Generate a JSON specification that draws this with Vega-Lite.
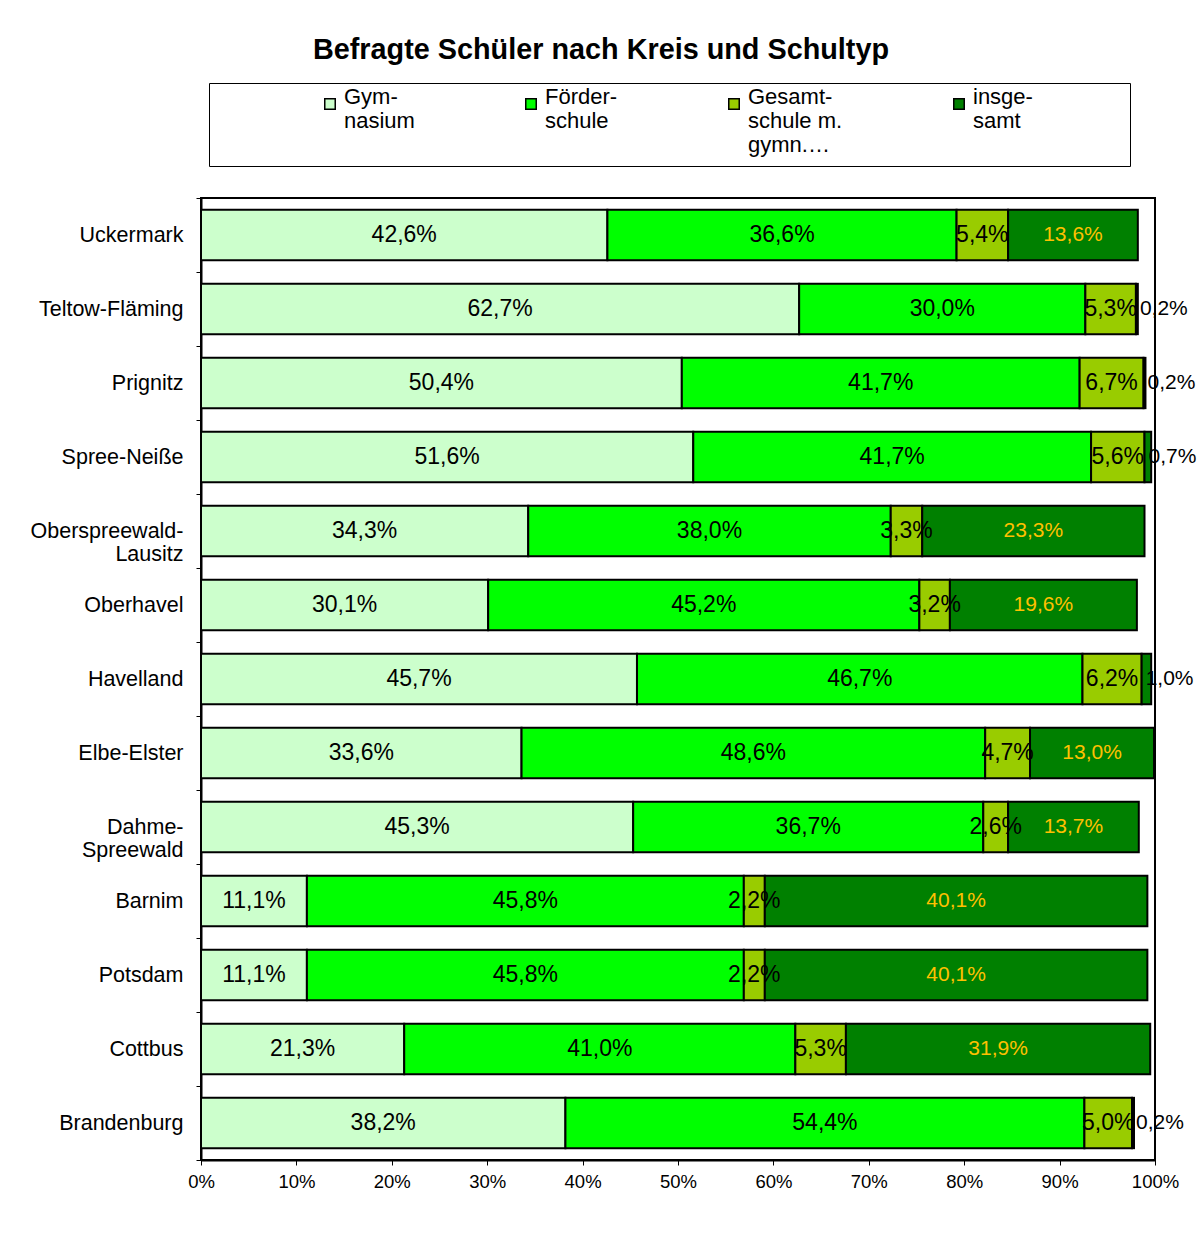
{
  "$schema": "https://vega.github.io/schema/vega-lite/v6.json",
  "width": 954,
  "height": 962,
  "autosize": {"type": "none"},
  "padding": {"left": 201, "top": 198, "right": 48, "bottom": 74},
  "background": "white",
  "title": {"text": "Befragte Schüler nach Kreis und Schultyp", "font": "Liberation Sans", "fontSize": 28.8, "fontWeight": "bold", "color": "black", "anchor": "middle", "offset": 18, "dx": -77},
  "config": {
    "locale": {"number": {"decimal": ",", "thousands": ".", "grouping": [3], "currency": ["", " €"]}},
    "view": {"stroke": "black", "strokeWidth": 2}
  },
  "data": {"values": [
    {"Kreis": "Uckermark", "Schultyp": "Gymnasium", "Nr": 1, "Anteil": 0.426},
    {"Kreis": "Uckermark", "Schultyp": "Förderschule", "Nr": 2, "Anteil": 0.366},
    {"Kreis": "Uckermark", "Schultyp": "Gesamtschule m. gymn. Oberstufe", "Nr": 3, "Anteil": 0.054},
    {"Kreis": "Uckermark", "Schultyp": "insgesamt", "Nr": 4, "Anteil": 0.136},
    {"Kreis": "Teltow-Fläming", "Schultyp": "Gymnasium", "Nr": 1, "Anteil": 0.627},
    {"Kreis": "Teltow-Fläming", "Schultyp": "Förderschule", "Nr": 2, "Anteil": 0.300},
    {"Kreis": "Teltow-Fläming", "Schultyp": "Gesamtschule m. gymn. Oberstufe", "Nr": 3, "Anteil": 0.053},
    {"Kreis": "Teltow-Fläming", "Schultyp": "insgesamt", "Nr": 4, "Anteil": 0.002},
    {"Kreis": "Prignitz", "Schultyp": "Gymnasium", "Nr": 1, "Anteil": 0.504},
    {"Kreis": "Prignitz", "Schultyp": "Förderschule", "Nr": 2, "Anteil": 0.417},
    {"Kreis": "Prignitz", "Schultyp": "Gesamtschule m. gymn. Oberstufe", "Nr": 3, "Anteil": 0.067},
    {"Kreis": "Prignitz", "Schultyp": "insgesamt", "Nr": 4, "Anteil": 0.002},
    {"Kreis": "Spree-Neiße", "Schultyp": "Gymnasium", "Nr": 1, "Anteil": 0.516},
    {"Kreis": "Spree-Neiße", "Schultyp": "Förderschule", "Nr": 2, "Anteil": 0.417},
    {"Kreis": "Spree-Neiße", "Schultyp": "Gesamtschule m. gymn. Oberstufe", "Nr": 3, "Anteil": 0.056},
    {"Kreis": "Spree-Neiße", "Schultyp": "insgesamt", "Nr": 4, "Anteil": 0.007},
    {"Kreis": "Oberspreewald-Lausitz", "Schultyp": "Gymnasium", "Nr": 1, "Anteil": 0.343},
    {"Kreis": "Oberspreewald-Lausitz", "Schultyp": "Förderschule", "Nr": 2, "Anteil": 0.380},
    {"Kreis": "Oberspreewald-Lausitz", "Schultyp": "Gesamtschule m. gymn. Oberstufe", "Nr": 3, "Anteil": 0.033},
    {"Kreis": "Oberspreewald-Lausitz", "Schultyp": "insgesamt", "Nr": 4, "Anteil": 0.233},
    {"Kreis": "Oberhavel", "Schultyp": "Gymnasium", "Nr": 1, "Anteil": 0.301},
    {"Kreis": "Oberhavel", "Schultyp": "Förderschule", "Nr": 2, "Anteil": 0.452},
    {"Kreis": "Oberhavel", "Schultyp": "Gesamtschule m. gymn. Oberstufe", "Nr": 3, "Anteil": 0.032},
    {"Kreis": "Oberhavel", "Schultyp": "insgesamt", "Nr": 4, "Anteil": 0.196},
    {"Kreis": "Havelland", "Schultyp": "Gymnasium", "Nr": 1, "Anteil": 0.457},
    {"Kreis": "Havelland", "Schultyp": "Förderschule", "Nr": 2, "Anteil": 0.467},
    {"Kreis": "Havelland", "Schultyp": "Gesamtschule m. gymn. Oberstufe", "Nr": 3, "Anteil": 0.062},
    {"Kreis": "Havelland", "Schultyp": "insgesamt", "Nr": 4, "Anteil": 0.010},
    {"Kreis": "Elbe-Elster", "Schultyp": "Gymnasium", "Nr": 1, "Anteil": 0.336},
    {"Kreis": "Elbe-Elster", "Schultyp": "Förderschule", "Nr": 2, "Anteil": 0.486},
    {"Kreis": "Elbe-Elster", "Schultyp": "Gesamtschule m. gymn. Oberstufe", "Nr": 3, "Anteil": 0.047},
    {"Kreis": "Elbe-Elster", "Schultyp": "insgesamt", "Nr": 4, "Anteil": 0.130},
    {"Kreis": "Dahme-Spreewald", "Schultyp": "Gymnasium", "Nr": 1, "Anteil": 0.453},
    {"Kreis": "Dahme-Spreewald", "Schultyp": "Förderschule", "Nr": 2, "Anteil": 0.367},
    {"Kreis": "Dahme-Spreewald", "Schultyp": "Gesamtschule m. gymn. Oberstufe", "Nr": 3, "Anteil": 0.026},
    {"Kreis": "Dahme-Spreewald", "Schultyp": "insgesamt", "Nr": 4, "Anteil": 0.137},
    {"Kreis": "Barnim", "Schultyp": "Gymnasium", "Nr": 1, "Anteil": 0.111},
    {"Kreis": "Barnim", "Schultyp": "Förderschule", "Nr": 2, "Anteil": 0.458},
    {"Kreis": "Barnim", "Schultyp": "Gesamtschule m. gymn. Oberstufe", "Nr": 3, "Anteil": 0.022},
    {"Kreis": "Barnim", "Schultyp": "insgesamt", "Nr": 4, "Anteil": 0.401},
    {"Kreis": "Potsdam", "Schultyp": "Gymnasium", "Nr": 1, "Anteil": 0.111},
    {"Kreis": "Potsdam", "Schultyp": "Förderschule", "Nr": 2, "Anteil": 0.458},
    {"Kreis": "Potsdam", "Schultyp": "Gesamtschule m. gymn. Oberstufe", "Nr": 3, "Anteil": 0.022},
    {"Kreis": "Potsdam", "Schultyp": "insgesamt", "Nr": 4, "Anteil": 0.401},
    {"Kreis": "Cottbus", "Schultyp": "Gymnasium", "Nr": 1, "Anteil": 0.213},
    {"Kreis": "Cottbus", "Schultyp": "Förderschule", "Nr": 2, "Anteil": 0.410},
    {"Kreis": "Cottbus", "Schultyp": "Gesamtschule m. gymn. Oberstufe", "Nr": 3, "Anteil": 0.053},
    {"Kreis": "Cottbus", "Schultyp": "insgesamt", "Nr": 4, "Anteil": 0.319},
    {"Kreis": "Brandenburg", "Schultyp": "Gymnasium", "Nr": 1, "Anteil": 0.382},
    {"Kreis": "Brandenburg", "Schultyp": "Förderschule", "Nr": 2, "Anteil": 0.544},
    {"Kreis": "Brandenburg", "Schultyp": "Gesamtschule m. gymn. Oberstufe", "Nr": 3, "Anteil": 0.050},
    {"Kreis": "Brandenburg", "Schultyp": "insgesamt", "Nr": 4, "Anteil": 0.002}
  ]},
  "transform": [
    {"stack": "Anteil", "groupby": ["Kreis"], "sort": [{"field": "Nr", "order": "ascending"}], "as": ["x0", "x1"]},
    {"calculate": "(datum.x0 + datum.x1) / 2", "as": "xm"}
  ],
  "encoding": {
    "y": {
      "field": "Kreis", "type": "nominal",
      "sort": ["Uckermark", "Teltow-Fläming", "Prignitz", "Spree-Neiße", "Oberspreewald-Lausitz", "Oberhavel", "Havelland", "Elbe-Elster", "Dahme-Spreewald", "Barnim", "Potsdam", "Cottbus", "Brandenburg"],
      "scale": {"paddingInner": 0, "paddingOuter": 0},
      "axis": {
        "title": null, "labelFont": "Liberation Sans", "labelFontSize": 21.5, "labelColor": "black",
        "tickBand": "extent", "tickSize": 5, "tickColor": "black", "tickWidth": 1,
        "domainColor": "black", "domainWidth": 2, "labelPadding": 13, "labelLimit": 300,
        "labelExpr": "datum.label == 'Oberspreewald-Lausitz' ? ['Oberspreewald-', 'Lausitz'] : datum.label == 'Dahme-Spreewald' ? ['Dahme-', 'Spreewald'] : datum.label"
      }
    }
  },
  "layer": [
    {
      "mark": {"type": "bar", "stroke": "black", "strokeWidth": 2, "height": {"band": 0.68}},
      "encoding": {
        "x": {
          "field": "x0", "type": "quantitative",
          "scale": {"domain": [0, 1], "nice": false},
          "axis": {
            "title": null, "format": "%", "values": [0, 0.1, 0.2, 0.3, 0.4, 0.5, 0.6, 0.7, 0.8, 0.9, 1],
            "grid": false, "tickSize": 5, "tickColor": "black", "domainColor": "black", "domainWidth": 2,
            "labelFont": "Liberation Sans", "labelFontSize": 18.5, "labelColor": "black", "labelPadding": 7, "labelFlush": false
          }
        },
        "x2": {"field": "x1"},
        "color": {
          "field": "Schultyp", "type": "nominal",
          "scale": {"domain": ["Gymnasium", "Förderschule", "Gesamtschule m. gymn. Oberstufe", "insgesamt"], "range": ["#CCFFCC", "#00FF00", "#99CC00", "#008000"]},
          "legend": {
            "orient": "none", "legendX": 8, "legendY": -115, "direction": "horizontal", "columns": 4,
            "title": "\u00a0", "titleOrient": "right", "titlePadding": 87, "titleFontSize": 10,
            "symbolType": "square", "symbolSize": 110, "symbolStrokeColor": "black", "symbolStrokeWidth": 1.5,
            "labelFont": "Liberation Sans", "labelFontSize": 22, "labelColor": "black", "labelBaseline": "alphabetic",
            "labelLimit": 300, "labelOffset": 3, "symbolOffset": 100, "columnPadding": 5,
            "strokeColor": "black", "padding": 10,
            "labelExpr": "datum.label == 'Gymnasium' ? ['Gym-', 'nasium', ''] : datum.label == 'Förderschule' ? ['Förder-', 'schule', ''] : datum.label == 'insgesamt' ? ['insge-', 'samt', ''] : ['Gesamt-', 'schule m.', 'gymn.…']"
          }
        }
      }
    },
    {
      "transform": [{"filter": "datum.Nr <= 3"}],
      "mark": {"type": "text", "font": "Liberation Sans", "fontSize": 23, "color": "black", "align": "center", "baseline": "middle"},
      "encoding": {
        "x": {"field": "xm", "type": "quantitative"},
        "text": {"field": "Anteil", "type": "quantitative", "format": ".1%"}
      }
    },
    {
      "transform": [{"filter": "datum.Nr == 4 && datum.Anteil >= 0.02"}],
      "mark": {"type": "text", "font": "Liberation Sans", "fontSize": 21, "color": "#FFC000", "align": "center", "baseline": "middle"},
      "encoding": {
        "x": {"field": "xm", "type": "quantitative"},
        "text": {"field": "Anteil", "type": "quantitative", "format": ".1%"}
      }
    },
    {
      "transform": [{"filter": "datum.Nr == 4 && datum.Anteil < 0.02"}],
      "mark": {"type": "text", "font": "Liberation Sans", "fontSize": 21, "color": "black", "align": "left", "baseline": "middle", "dx": 4},
      "encoding": {
        "x": {"field": "x0", "type": "quantitative"},
        "text": {"field": "Anteil", "type": "quantitative", "format": ".1%"}
      }
    }
  ]
}
